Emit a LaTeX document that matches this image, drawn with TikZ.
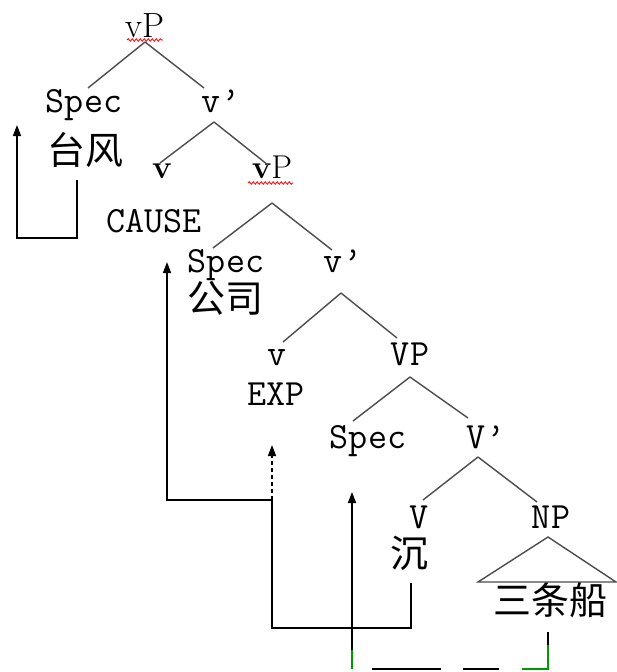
\documentclass[tikz,border=0pt]{standalone}
\usepackage{fontspec}
\newfontfamily\cjk{Noto Sans CJK SC}
\usetikzlibrary{arrows.meta, calc, decorations.pathmorphing}

\begin{document}
\begin{tikzpicture}[x=1pt, y=-1pt,
  lab/.style={inner sep=0pt, anchor=base, font=\fontsize{37}{40}\selectfont\ttfamily},
  cat/.style={inner sep=0pt, anchor=base, font=\fontsize{35}{38}\selectfont},
  zh/.style={inner sep=0pt, anchor=base, font=\fontsize{38}{40}\selectfont\cjk},
  branch/.style={black!70, line width=1.4pt},
  mv/.style={black, line width=1.5pt},
  tip/.style={-{Triangle[length=11pt, width=8pt]}},
  greenl/.style={green!60!black, line width=1.5pt},
  squiggle/.style={red, line width=0.8pt, decorate, decoration={snake, amplitude=1.3pt, segment length=4pt}}]
  \useasboundingbox (0,0) rectangle (616,672);
  % labels
  \node[cat] (vP) at (145,37) {vP};
  \node[lab] (spec1) at (84,112) {Spec};
  \node[lab] (v1) at (221,112) {v’};
  \node[zh] (taifeng) at (85,164) {台风};
  \node[cat, font=\fontsize{33}{36}\selectfont] (bv) at (162,178) {\textbf{v}};
  \node[cat, font=\fontsize{33}{36}\selectfont] (vP2) at (272,178) {\textbf{v}P};
  \node[lab] (cause) at (154,232) {CAUSE};
  \node[lab] (spec2) at (226,272) {Spec};
  \node[zh] (gongsi) at (225,312) {公司};
  \node[lab] (v2) at (343,272) {v’};
  \node[lab] (vexp) at (277,365) {v};
  \node[lab] (exp) at (276,405) {EXP};
  \node[lab] (VP) at (410,365) {VP};
  \node[lab] (spec3) at (368,448) {Spec};
  \node[lab] (V3) at (486,448) {V’};
  \node[lab] (V) at (419,528) {V};
  \node[zh] (chen) at (409,567) {沉};
  \node[lab] (NP) at (551,528) {NP};
  \node[zh] (sanchuan) at (550,614) {三条船};
  % spelling marks
  \draw[squiggle] ($(vP.base)+(-18,3)$) -- ++(36,0);
  \draw[squiggle] ($(vP2.base)+(-24,5)$) -- ++(45,0);
  % branches
  \draw[branch] ($(vP.base)+(0,5)$) -- ($(spec1.base)+(4,-24)$);
  \draw[branch] ($(vP.base)+(0,5)$) -- ($(v1.base)+(-17,-24)$);
  \draw[branch] ($(v1.base)+(-7,10)$) -- ($(bv.base)+(-2,-15)$);
  \draw[branch] ($(v1.base)+(-7,10)$) -- ($(vP2.base)+(-4,-13)$);
  \draw[branch] ($(vP2.base)+(0,25)$) -- ($(spec2.base)+(-13,-24)$);
  \draw[branch] ($(vP2.base)+(0,25)$) -- ($(v2.base)+(-11,-22)$);
  \draw[branch] ($(v2.base)+(-2,21)$) -- ($(vexp.base)+(6,-23)$);
  \draw[branch] ($(v2.base)+(-2,21)$) -- ($(VP.base)+(-13,-27)$);
  \draw[branch] ($(VP.base)+(0,12)$) -- ($(spec3.base)+(-15,-27)$);
  \draw[branch] ($(VP.base)+(0,12)$) -- ($(V3.base)+(-18,-30)$);
  \draw[branch] ($(V3.base)+(-8,9)$) -- ($(V.base)+(4,-28)$);
  \draw[branch] ($(V3.base)+(-8,9)$) -- ($(NP.base)+(-14,-26)$);
  % NP triangle
  \draw[branch] ($(NP.base)+(-73,54)$) -- ($(NP.base)+(-3,9)$) -- ($(NP.base)+(65,54)$) -- cycle;
  % movement of the causer
  \draw[mv, tip] ($(taifeng.base)+(-8,16)$) -- ++(0,58) -| ($(spec1.base)+(-67,13)$);
  % movement of the verb
  \coordinate (j2) at ($(exp.base)+(-4,95)$);
  \draw[mv] ($(chen.base)+(2,16)$) -- ++(0,45) -| (j2);
  \draw[mv, tip] (j2) -| ($(cause.base)+(13,30)$);
  \draw[mv, tip, dash pattern=on 4pt off 3pt] (j2) -- ($(exp.base)+(-4,40)$);
  % movement of the object
  \coordinate (b3r) at ($(sanchuan.base)+(-2,55)$);
  \coordinate (b3l) at ($(b3r)+(-196,0)$);
  \draw[mv] ($(sanchuan.base)+(-2,18)$) -- ($(b3r)+(0,-24)$);
  \draw[greenl] ($(b3r)+(0,-24)$) -- (b3r) -- ++(-26,0);
  \draw[mv, dash pattern=on 36pt off 22pt on 69pt off 20pt] ($(b3r)+(-49,0)$) -- (b3l);
  \draw[greenl] (b3l) -- ++(0,-19);
  \draw[mv, tip] ($(b3l)+(0,-19)$) -- ($(spec3.base)+(-16,44)$);
\end{tikzpicture}
\end{document}
